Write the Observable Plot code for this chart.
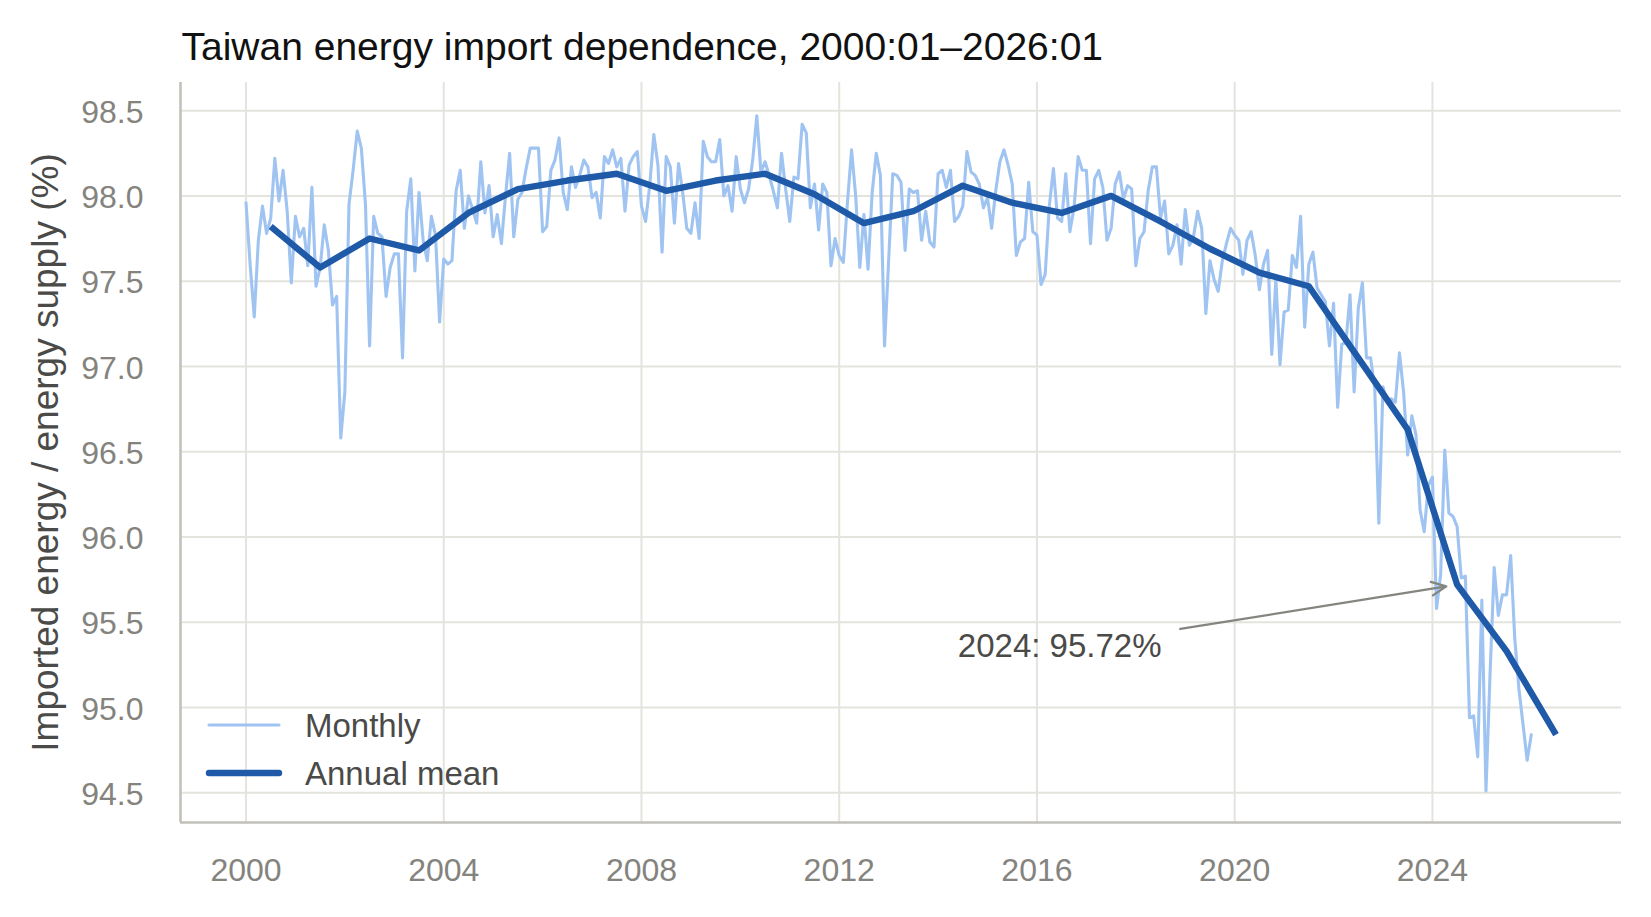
<!DOCTYPE html>
<html>
<head>
<meta charset="utf-8">
<script src="https://cdn.jsdelivr.net/npm/d3@7"></script>
<script src="https://cdn.jsdelivr.net/npm/@observablehq/plot@0.6"></script>
<style>
  html, body { margin: 0; padding: 0; background: #ffffff; }
  #chart { width: 1651px; height: 917px; }
</style>
</head>
<body>
<div id="chart"></div>
<script>
// ---------------- data ----------------
const titleText = "Taiwan energy import dependence, 2000:01\u20132026:01";
const yLabelText = "Imported energy / energy supply (%)";
const seriesNames = ["Monthly", "Annual mean"];

const monthlyStartYear = 2000;
const monthly2000 = [97.96, 97.60, 97.29, 97.74, 97.94, 97.78, 97.87, 98.22, 97.97, 98.15, 97.91, 97.49];
const monthly2001 = [97.88, 97.76, 97.81, 97.59, 98.05, 97.47, 97.58, 97.83, 97.68, 97.36, 97.41, 96.58];
const monthly2002 = [96.85, 97.95, 98.15, 98.38, 98.28, 97.95, 97.12, 97.88, 97.78, 97.76, 97.41, 97.58];
const monthly2003 = [97.66, 97.66, 97.05, 97.91, 98.10, 97.56, 98.02, 97.74, 97.62, 97.88, 97.77, 97.26];
const monthly2004 = [97.63, 97.60, 97.62, 98.03, 98.15, 97.81, 98.00, 97.92, 97.84, 98.20, 97.90, 98.06];
const monthly2005 = [97.76, 97.89, 97.72, 98.00, 98.25, 97.76, 97.98, 98.02, 98.16, 98.28, 98.28, 98.28];
const monthly2006 = [97.79, 97.82, 98.15, 98.21, 98.34, 98.02, 97.92, 98.17, 98.05, 98.12, 98.21, 98.17];
const monthly2007 = [97.99, 98.02, 97.87, 98.23, 98.19, 98.27, 98.17, 98.22, 97.91, 98.18, 98.23, 98.26];
const monthly2008 = [97.94, 97.85, 98.06, 98.36, 98.18, 97.67, 98.23, 98.17, 97.84, 98.19, 98.02, 97.81];
const monthly2009 = [97.78, 97.96, 97.75, 98.32, 98.23, 98.20, 98.20, 98.33, 98.00, 98.06, 97.91, 98.23];
const monthly2010 = [98.04, 97.96, 98.04, 98.21, 98.47, 98.14, 98.20, 98.12, 98.03, 97.93, 98.25, 98.04];
const monthly2011 = [97.85, 98.11, 98.10, 98.42, 98.37, 97.93, 98.07, 97.80, 98.07, 98.02, 97.59, 97.75];
const monthly2012 = [97.65, 97.61, 97.96, 98.27, 98.00, 97.58, 97.89, 97.57, 98.02, 98.25, 98.12, 97.12];
const monthly2013 = [97.62, 98.13, 98.12, 98.08, 97.68, 98.04, 98.02, 98.03, 97.74, 97.91, 97.73, 97.70];
const monthly2014 = [98.13, 98.15, 98.05, 98.15, 97.85, 97.88, 97.94, 98.26, 98.14, 98.12, 98.07, 97.93];
const monthly2015 = [97.99, 97.81, 98.03, 98.20, 98.27, 98.18, 98.07, 97.65, 97.73, 97.75, 98.08, 97.79];
const monthly2016 = [97.77, 97.48, 97.54, 97.94, 98.16, 97.87, 97.85, 98.13, 97.79, 97.93, 98.23, 98.15];
const monthly2017 = [98.15, 97.72, 98.10, 98.15, 98.05, 97.74, 97.81, 98.07, 98.14, 97.98, 98.06, 98.04];
const monthly2018 = [97.59, 97.75, 97.79, 98.03, 98.17, 98.17, 97.87, 97.97, 97.66, 97.71, 97.83, 97.60];
const monthly2019 = [97.92, 97.71, 97.76, 97.91, 97.81, 97.31, 97.62, 97.51, 97.44, 97.62, 97.72, 97.81];
const monthly2020 = [97.77, 97.74, 97.54, 97.74, 97.79, 97.65, 97.45, 97.60, 97.68, 97.07, 97.51, 97.01];
const monthly2021 = [97.32, 97.33, 97.65, 97.58, 97.88, 97.23, 97.60, 97.67, 97.46, 97.42, 97.38, 97.12];
const monthly2022 = [97.37, 96.76, 97.13, 97.14, 97.42, 96.85, 97.34, 97.49, 97.05, 97.05, 96.87, 96.08];
const monthly2023 = [96.88, 96.79, 96.81, 96.79, 97.08, 96.85, 96.48, 96.71, 96.60, 96.16, 96.03, 96.30];
const monthly2024 = [96.35, 95.58, 95.78, 96.51, 96.14, 96.12, 96.06, 95.76, 95.77, 94.94, 94.95, 94.71];
const monthly2025 = [95.63, 94.51, 95.20, 95.82, 95.54, 95.66, 95.66, 95.89, 95.40, 95.11, 94.90, 94.69];
const monthly2026 = [94.84];

const annualYears  = [2000, 2001, 2002, 2003, 2004, 2005, 2006, 2007, 2008, 2009, 2010, 2011, 2012, 2013,
                      2014, 2015, 2016, 2017, 2018, 2019, 2020, 2021, 2022, 2023, 2024, 2025, 2026];
const annualValues = [97.82, 97.58, 97.75, 97.68, 97.90, 98.04, 98.09, 98.13, 98.03, 98.09, 98.13, 98.01, 97.84, 97.91,
                      98.06, 97.96, 97.90, 98.00, 97.85, 97.69, 97.55, 97.47, 97.05, 96.63, 95.72, 95.33, 94.84];

const xTicks = [2000, 2004, 2008, 2012, 2016, 2020, 2024];
const yTicks = [94.5, 95.0, 95.5, 96.0, 96.5, 97.0, 97.5, 98.0, 98.5];

const highlightYear = 2024;
const highlightLabel = "2024: 95.72%";
const annotationTextAt = [2016.46, 95.36];   // label position (year, %)
const annotationArrowFrom = [2018.9, 95.46]; // arrow tail (year, %)

const xDomain = [1998.675, 2027.825];
const yDomain = [94.325, 98.665];

// ---------------- styles ----------------
const FONT = "'Liberation Sans', Arial, Helvetica, sans-serif";
const colMonthly = "#a0c4f2";
const colAnnual = "#1f5aa8";
const colGrid = "#e4e3dd";
const colSpine = "#c2c1b9";
const colTick = "#84837e";
const colText = "#4a4a48";
const wMonthly = 3.1;
const wAnnual = 6.4;

// ---------------- build ----------------
const monthlyAll = [].concat(monthly2000, monthly2001, monthly2002, monthly2003, monthly2004, monthly2005,
  monthly2006, monthly2007, monthly2008, monthly2009, monthly2010, monthly2011, monthly2012, monthly2013,
  monthly2014, monthly2015, monthly2016, monthly2017, monthly2018, monthly2019, monthly2020, monthly2021,
  monthly2022, monthly2023, monthly2024, monthly2025, monthly2026);
const monthlyData = monthlyAll.map((v, i) => ({t: monthlyStartYear + i / 12, v}));
const annualData = annualYears.map((y, i) => ({t: y + 0.5, v: annualValues[i]}));
const hi = annualData[annualYears.indexOf(highlightYear)];
const annotation = [{
  x1: annotationArrowFrom[0], y1: annotationArrowFrom[1],
  x2: hi.t, y2: hi.v,
  tx: annotationTextAt[0], ty: annotationTextAt[1], label: highlightLabel
}];

const chart = Plot.plot({
  width: 1651,
  height: 917,
  marginLeft: 180,
  marginRight: 30,
  marginTop: 82,
  marginBottom: 95,
  style: {fontFamily: FONT, background: "#ffffff", overflow: "visible"},
  x: {type: "linear", domain: xDomain, axis: null},
  y: {type: "linear", domain: yDomain, axis: null},
  marks: [
    Plot.ruleX(xTicks, {x: d => d, stroke: colGrid, strokeWidth: 2}),
    Plot.ruleY(yTicks, {y: d => d, stroke: colGrid, strokeWidth: 2}),
    Plot.ruleX([xDomain[0]], {x: d => d, stroke: colSpine, strokeWidth: 2.6}),
    Plot.ruleY([yDomain[0]], {y: d => d, stroke: colSpine, strokeWidth: 2.6}),
    Plot.line(monthlyData, {x: "t", y: "v", stroke: colMonthly, strokeWidth: wMonthly, strokeLinejoin: "round"}),
    Plot.line(annualData, {x: "t", y: "v", stroke: colAnnual, strokeWidth: wAnnual, strokeLinejoin: "round", strokeLinecap: "butt"}),
    Plot.arrow(annotation, {x1: "x1", y1: "y1", x2: "x2", y2: "y2", stroke: "#858580", strokeWidth: 2.3,
      headLength: 10.5, headAngle: 50, insetEnd: 11}),
    Plot.text(annotation, {x: "tx", y: "ty", text: "label", fontSize: 33, fill: colText,
      textAnchor: "middle", lineAnchor: "middle"}),
    // tick labels
    Plot.text(yTicks, {y: d => d, text: d => d.toFixed(1), frameAnchor: "left", textAnchor: "end",
      dx: -37, dy: 2, lineAnchor: "middle", fontSize: 32, fill: colTick}),
    Plot.text(xTicks, {x: d => d, text: d => String(d), frameAnchor: "bottom", textAnchor: "middle",
      dy: 48, lineAnchor: "middle", fontSize: 32, fill: colTick}),
    // axis label
    Plot.text([yLabelText], {frameAnchor: "left", rotate: -90, dx: -134, textAnchor: "middle",
      lineAnchor: "middle", fontSize: 37, fill: colText}),
    // title
    Plot.text([titleText], {frameAnchor: "top-left", textAnchor: "start", lineAnchor: "bottom",
      dx: 1, dy: -23, fontSize: 39, fill: "#111111"})
  ]
});

document.getElementById("chart").appendChild(chart);

// legend (inside the plot area, lower left)
const svg = d3.select(chart);
const lg = svg.append("g").attr("font-family", FONT).attr("font-size", 33).attr("fill", colText)
  .attr("text-anchor", "start");
const legendItems = [
  {name: seriesNames[0], color: colMonthly, width: wMonthly, y: 725},
  {name: seriesNames[1], color: colAnnual, width: wAnnual, y: 773}
];
legendItems.forEach(it => {
  lg.append("line").attr("x1", 209).attr("x2", 279).attr("y1", it.y).attr("y2", it.y)
    .attr("stroke", it.color).attr("stroke-width", it.width).attr("stroke-linecap", "round");
  lg.append("text").attr("x", 305).attr("y", it.y + 12).attr("text-anchor", "start").text(it.name);
});
</script>
</body>
</html>
